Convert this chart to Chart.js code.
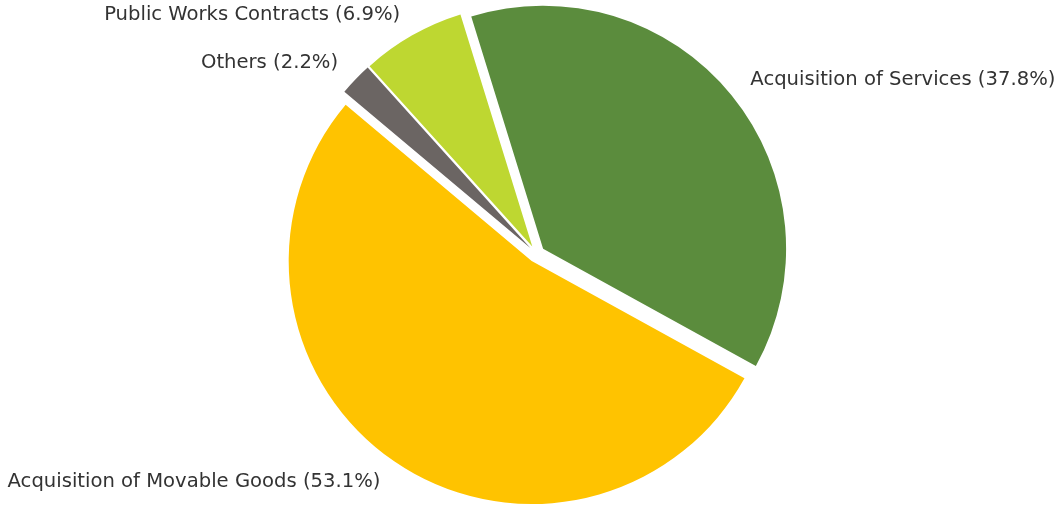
<!DOCTYPE html>
<html>
<head>
<meta charset="utf-8">
<script src="https://cdn.jsdelivr.net/npm/chart.js@4/dist/chart.umd.min.js"></script>
<style>
  html, body { margin: 0; padding: 0; background: #fff; }
  #wrap { width: 1058px; height: 506px; position: relative; }
</style>
</head>
<body>
<div id="wrap"><canvas id="mycanvas"></canvas></div>
<script>
// procurement split by contract type, clockwise from the top
var categories = ['Acquisition of Services', 'Acquisition of Movable Goods', 'Others', 'Public Works Contracts'];
var shares = [37.8, 53.1, 2.2, 6.9];
var colors = ['#5b8c3d', '#ffc300', '#6b6563', '#bed731'];

var EXPLODE = 8.5;      // px each wedge is pushed out from the centre
var FONT_SIZE = 19.6;
var total = shares.reduce(function(a, b){ return a + b; }, 0);

// push every wedge out by the same distance (the built-in offset also
// grows the radius, so the arcs are drawn here with a plain translate)
var explodedWedges = {
  id: 'explodedWedges',
  beforeDatasetDraw: function(chart, args){
    var ctx = chart.ctx;
    var meta = chart.getDatasetMeta(args.index);
    meta.data.forEach(function(arc){
      var p = arc.getProps(['startAngle', 'endAngle'], true);
      var mid = (p.startAngle + p.endAngle) / 2;
      ctx.save();
      ctx.translate(Math.cos(mid) * EXPLODE, Math.sin(mid) * EXPLODE);
      arc.draw(ctx);
      ctx.restore();
    });
    return false;
  }
};

// text labels outside each wedge, like "Name (12.3%)"
var outsideLabels = {
  id: 'outsideLabels',
  afterDatasetsDraw: function(chart){
    var ctx = chart.ctx;
    var meta = chart.getDatasetMeta(0);
    ctx.save();
    ctx.font = FONT_SIZE + 'px "DejaVu Sans"';
    ctx.fillStyle = '#333333';
    ctx.textBaseline = 'alphabetic';
    meta.data.forEach(function(arc, i){
      var p = arc.getProps(['x', 'y', 'startAngle', 'endAngle', 'outerRadius'], true);
      var mid = (p.startAngle + p.endAngle) / 2;
      var dist = p.outerRadius * 1.1 + EXPLODE;
      var x = p.x + Math.cos(mid) * dist;
      var y = p.y + Math.sin(mid) * dist;
      ctx.textAlign = Math.cos(mid) >= 0 ? 'left' : 'right';
      var pct = (shares[i] / total * 100).toFixed(1);
      ctx.fillText(categories[i] + ' (' + pct + '%)', x, y + FONT_SIZE * 0.28);
    });
    ctx.restore();
  }
};

var chartdata = {
  labels: categories,
  datasets: [{
    data: shares,
    backgroundColor: colors,
    borderWidth: 0,
    hoverOffset: 0
  }]
};

var pieChart = new Chart(document.getElementById('mycanvas'), {
  type: 'pie',
  data: chartdata,
  options: {
    responsive: true,
    maintainAspectRatio: false,
    animation: false,
    rotation: -17.2,
    radius: 243,
    layout: { padding: { left: 15, top: 2, right: 0, bottom: 0 } },
    plugins: {
      legend: { display: false },
      tooltip: { enabled: false }
    }
  },
  plugins: [explodedWedges, outsideLabels]
});
</script>
</body>
</html>
